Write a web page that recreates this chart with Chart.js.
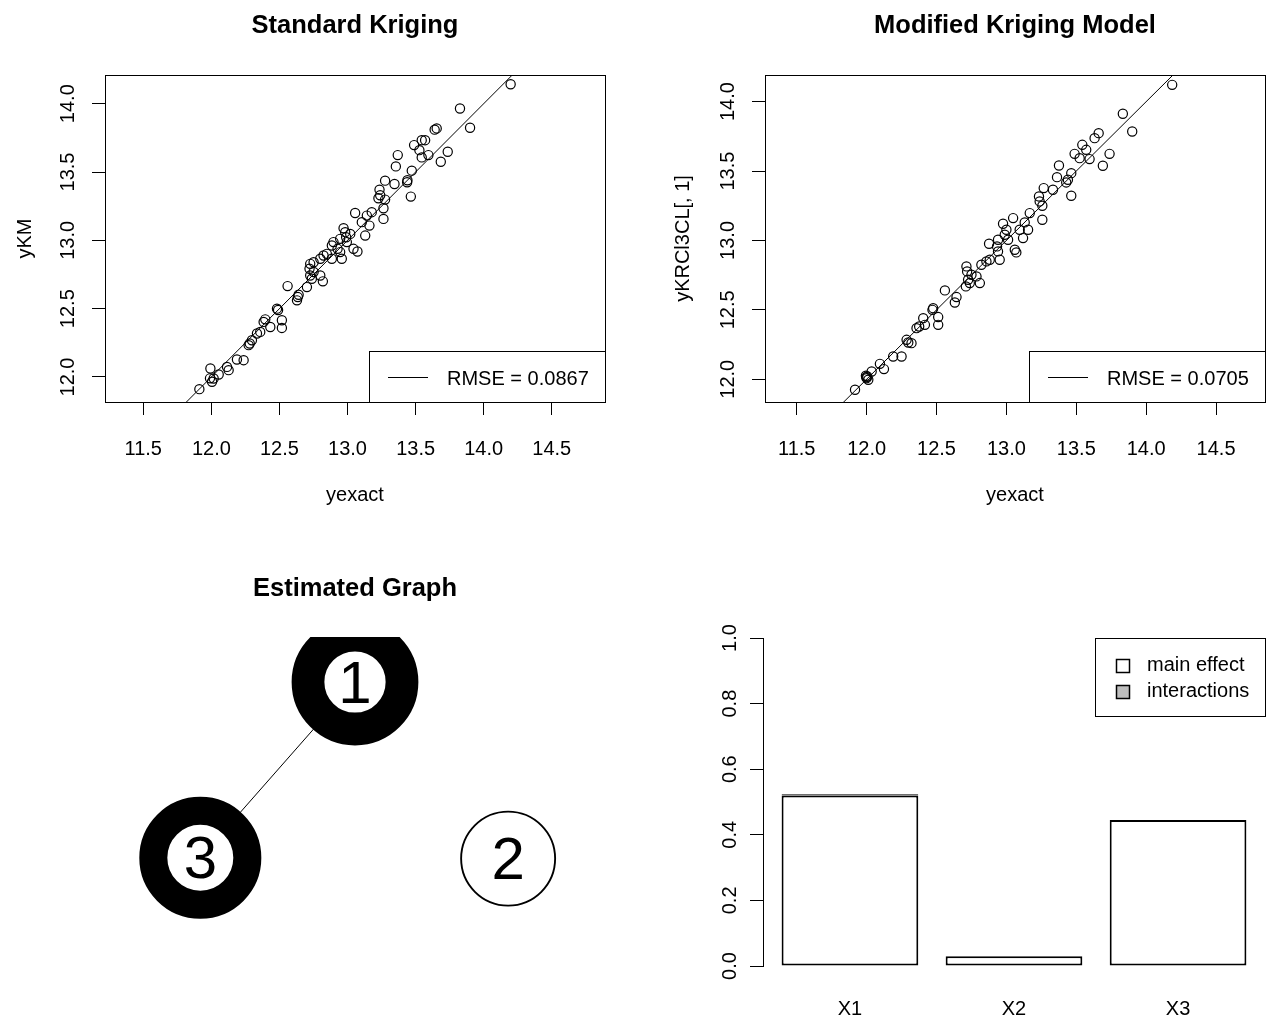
<!DOCTYPE html>
<html><head><meta charset="utf-8">
<script src="https://cdn.jsdelivr.net/npm/chart.js@4.4.1/dist/chart.umd.min.js"></script>
<style>
html,body{margin:0;padding:0;background:#fff;}
#wrap{position:relative;width:1271px;height:1023px;overflow:hidden;background:#fff;}
canvas{position:absolute;}
</style></head><body>
<div id="wrap">
<canvas id="c1" width="635" height="511" style="left:0;top:0"></canvas>
<canvas id="c2" width="636" height="511" style="left:635px;top:0"></canvas>
<canvas id="c3" width="635" height="512" style="left:0;top:511px"></canvas>
<canvas id="c4" width="636" height="512" style="left:635px;top:511px"></canvas>
</div>
<script>
// ---------------- data ----------------
const yexactA = [14.198,13.826,13.900,13.655,13.640,13.545,13.570,13.489,13.528,13.545,13.594,13.736,13.685,13.369,13.355,13.472,13.438,13.440,13.465,13.276,13.345,13.235,13.227,13.240,13.276,13.264,13.264,13.056,13.142,13.178,13.105,13.161,13.130,12.971,12.983,12.990,13.020,12.995,12.946,12.897,12.885,12.927,12.946,12.958,13.044,13.073,12.848,12.885,12.824,12.800,12.751,12.726,12.721,12.751,12.800,12.819,12.726,12.738,12.702,12.560,12.641,12.629,12.635,12.482,12.490,12.518,12.518,12.396,12.384,12.433,12.359,12.335,12.298,12.274,12.282,12.237,12.188,12.115,12.127,11.993,12.054,12.017,12.005,11.990,11.912];
const yKM     = [14.142,13.965,13.824,13.819,13.810,13.733,13.733,13.697,13.660,13.607,13.624,13.648,13.575,13.624,13.541,13.510,13.425,13.440,13.320,13.437,13.412,13.371,13.308,13.330,13.298,13.235,13.157,13.200,13.181,13.206,13.133,13.108,13.035,13.089,13.060,13.023,13.047,12.987,13.011,12.987,12.962,12.938,12.914,12.865,12.938,12.918,12.901,12.865,12.889,12.865,12.840,12.828,12.792,12.768,12.743,12.700,12.743,12.719,12.658,12.665,12.602,12.561,12.585,12.500,12.490,12.415,12.359,12.422,12.403,12.366,12.330,12.318,12.269,12.233,12.245,12.123,12.128,12.074,12.050,12.062,12.018,11.989,11.965,11.990,11.911];

const yexactB = [14.186,13.833,13.900,13.631,13.660,13.543,13.571,13.488,13.524,13.595,13.738,13.690,13.376,13.362,13.464,13.440,13.428,13.464,13.267,13.333,13.233,13.238,13.257,13.257,13.048,13.131,13.167,13.095,13.155,13.119,12.976,13.000,12.988,12.940,13.012,12.876,12.933,12.940,12.952,13.060,13.071,12.881,12.857,12.821,12.714,12.719,12.750,12.786,12.810,12.726,12.738,12.710,12.560,12.643,12.631,12.476,12.471,12.512,12.512,12.405,12.417,12.357,12.376,12.286,12.298,12.321,12.190,12.250,12.095,12.124,12.036,11.995,12.000,12.012,12.005,11.998,11.917];
const yKRCl3CL = [14.121,13.913,13.785,13.737,13.773,13.689,13.653,13.624,13.593,13.586,13.624,13.538,13.540,13.456,13.485,13.437,13.418,13.322,13.377,13.365,13.317,13.281,13.250,13.149,13.161,13.130,13.197,13.077,13.077,13.017,13.120,13.077,13.041,13.005,13.005,12.976,12.957,12.921,12.861,12.933,12.914,12.861,12.849,12.825,12.813,12.777,12.753,12.741,12.693,12.717,12.693,12.669,12.640,12.592,12.553,12.512,12.500,12.448,12.392,12.440,12.392,12.368,12.380,12.284,12.265,12.260,12.164,12.164,12.111,12.073,12.056,12.025,12.008,11.996,12.020,12.015,11.924];

const rmseValues = [0.0867, 0.0705];
const xTicks = [11.5, 12.0, 12.5, 13.0, 13.5, 14.0, 14.5];
const yTicks = [12.0, 12.5, 13.0, 13.5, 14.0];

const nodeLabels = ['1', '2', '3'];
const nodeX = [0.0, 0.98, -0.99];
const nodeY = [1.0, -0.13, -0.125];
const edges = [[1, 3]];

const categories = ['X1', 'X2', 'X3'];
const seriesNames = ['main effect', 'interactions'];
const mainEffect = [0.52, 0.03, 0.445];
const interactions = [0.004, 0, 0];
const barTicks = [0.0, 0.2, 0.4, 0.6, 0.8, 1.0];

// ---------------- helpers ----------------
const FONT = "'Liberation Sans', Arial, Helvetica, sans-serif";
Chart.defaults.font.family = FONT;
Chart.defaults.color = '#000';
const tickFont = { family: FONT, size: 20 };
const titleFont = { family: FONT, size: 25.5, weight: 'bold' };
const setTicks = vals => s => { s.ticks = vals.map(v => ({ value: v })); };

const frame = {
  id: 'frame',
  afterDatasetsDraw(chart, args, o) {
    if (!o || !o.show) return;
    const { left, top, right, bottom } = chart.chartArea;
    const ctx = chart.ctx;
    ctx.save();
    ctx.strokeStyle = '#000'; ctx.lineWidth = 1;
    ctx.strokeRect(Math.round(left) + 0.5, Math.round(top) + 0.5, Math.round(right - left), Math.round(bottom - top));
    ctx.restore();
  }
};

const boxLegend = {
  id: 'boxLegend',
  afterDraw(chart, args, o) {
    const items = chart.data.datasets.filter(d => d.legendSymbol);
    if (!o || !o.width || !items.length) return;
    const ca = chart.chartArea, ctx = chart.ctx;
    const w = o.width, h = o.height;
    const left = Math.round(ca.right - w);
    const top = Math.round(o.corner === 'bottomright' ? ca.bottom - h : ca.top);
    ctx.save();
    ctx.fillStyle = '#fff';
    ctx.fillRect(left, top, w, h);
    ctx.strokeStyle = '#000'; ctx.lineWidth = 1;
    ctx.strokeRect(left + 0.5, top + 0.5, w, h);
    ctx.font = `20px ${FONT}`;
    ctx.textBaseline = 'middle'; ctx.textAlign = 'left';
    items.forEach((d, i) => {
      const cy = top + o.rowStart + i * o.rowGap;
      if (d.legendSymbol === 'line') {
        ctx.beginPath();
        ctx.moveTo(left + o.symStart, Math.round(cy) + 0.5);
        ctx.lineTo(left + o.symEnd, Math.round(cy) + 0.5);
        ctx.stroke();
      } else {
        const s = o.symSize;
        const sx = Math.round(left + o.symStart), sy = Math.round(cy - s / 2);
        ctx.fillStyle = d.backgroundColor;
        ctx.fillRect(sx, sy, s, s);
        ctx.lineWidth = 1.5;
        ctx.strokeRect(sx + 0.5, sy + 0.5, s, s);
        ctx.lineWidth = 1;
      }
      ctx.fillStyle = '#000';
      ctx.fillText(d.label, left + o.textStart, cy + (o.textDy || 0));
    });
    ctx.restore();
  }
};

const nodeText = {
  id: 'nodeText',
  afterDatasetsDraw(chart, args, o) {
    if (!o || !o.labels) return;
    const meta = chart.getDatasetMeta(0);
    const ctx = chart.ctx, ca = chart.chartArea;
    ctx.save();
    ctx.beginPath(); ctx.rect(ca.left, ca.top, ca.right - ca.left, ca.bottom - ca.top); ctx.clip();
    ctx.font = `60px ${FONT}`;
    ctx.fillStyle = '#000'; ctx.textAlign = 'center'; ctx.textBaseline = 'middle';
    meta.data.forEach((el, i) => ctx.fillText(o.labels[i], el.x, el.y + 4));
    ctx.restore();
  }
};

const base = { responsive: false, animation: false, devicePixelRatio: 1, events: [] };

function scatterPanel(id, cfg) {
  return new Chart(document.getElementById(id), {
    type: 'scatter',
    data: {
      datasets: [
        {
          data: cfg.xs.map((x, i) => ({ x, y: cfg.ys[i] })),
          pointStyle: 'circle', pointRadius: 4.6, pointHoverRadius: 4.6,
          pointBorderWidth: 1.2, pointBorderColor: '#000', pointBackgroundColor: 'rgba(0,0,0,0)',
          borderColor: '#000', backgroundColor: 'rgba(0,0,0,0)', showLine: false, clip: 0
        },
        {
          label: 'RMSE = ' + cfg.rmse.toFixed(4), legendSymbol: 'line',
          data: [{ x: cfg.xRange[0] - 1, y: cfg.xRange[0] - 1 }, { x: cfg.xRange[1] + 1, y: cfg.xRange[1] + 1 }],
          showLine: true, borderColor: '#000', borderWidth: 1, pointRadius: 0, pointHoverRadius: 0, fill: false, clip: 0
        }
      ]
    },
    options: Object.assign({}, base, {
      layout: { autoPadding: false, padding: { left: 0, top: 0, right: cfg.padRight, bottom: 0 } },
      plugins: {
        legend: { display: false }, tooltip: { enabled: false },
        title: { display: true, text: cfg.title, fullSize: false, color: '#000',
          font: titleFont, padding: { top: 10.7, bottom: 33.7 } },
        boxLegend: { corner: 'bottomright', width: 236, height: 51, rowStart: 26, rowGap: 0, symStart: 19, symEnd: 59, textStart: 78, textDy: 2 },
        frame: { show: true }
      },
      scales: {
        x: {
          type: 'linear', min: cfg.xRange[0], max: cfg.xRange[1],
          afterFit: s => { s.height = 109; },
          afterBuildTicks: setTicks(xTicks),
          ticks: { font: tickFont, color: '#000', padding: 22, autoSkip: false, maxRotation: 0, callback: v => v.toFixed(1) },
          grid: { display: true, drawOnChartArea: false, drawTicks: true, tickLength: 13, color: '#000', lineWidth: 1 },
          border: { display: false },
          title: { display: true, text: 'yexact', color: '#000', font: { family: FONT, size: 20 }, padding: { top: 0, bottom: 4 } }
        },
        y: {
          type: 'linear', min: cfg.yRange[0], max: cfg.yRange[1],
          afterFit: s => { s.width = cfg.yAxisWidth; },
          afterBuildTicks: setTicks(yTicks),
          ticks: { font: tickFont, color: '#000', padding: 4.5, autoSkip: false, minRotation: 90, maxRotation: 90, crossAlign: 'center', callback: v => v.toFixed(1) },
          grid: { display: true, drawOnChartArea: false, drawTicks: true, tickLength: 13, color: '#000', lineWidth: 1 },
          border: { display: false },
          title: { display: true, text: cfg.yTitle, color: '#000', font: { family: FONT, size: 20 }, padding: { top: cfg.yTitlePad, bottom: 0 } }
        }
      }
    }),
    plugins: [boxLegend, frame]
  });
}

scatterPanel('c1', { title: 'Standard Kriging', xs: yexactA, ys: yKM, rmse: rmseValues[0],
  xRange: [11.219, 14.891], yRange: [11.817, 14.21], padRight: 30, yAxisWidth: 105, yTitle: 'yKM', yTitlePad: 13 });
scatterPanel('c2', { title: 'Modified Kriging Model', xs: yexactB, ys: yKRCl3CL, rmse: rmseValues[1],
  xRange: [11.273, 14.85], yRange: [11.836, 14.192], padRight: 6, yAxisWidth: 130, yTitle: 'yKRCl3CL[, 1]', yTitlePad: 36 });

// ---------------- graph panel ----------------
const edgeSets = edges.map(([a, b]) => ({
  data: [{ x: nodeX[a - 1], y: nodeY[a - 1] }, { x: nodeX[b - 1], y: nodeY[b - 1] }],
  showLine: true, borderColor: '#000', borderWidth: 1, pointRadius: 0, pointHoverRadius: 0, fill: false, clip: 0
}));
new Chart(document.getElementById('c3'), {
  type: 'scatter',
  data: {
    datasets: [
      {
        data: nodeLabels.map((l, i) => ({ x: nodeX[i], y: nodeY[i] })),
        pointStyle: 'circle', pointRadius: 47, pointHoverRadius: 47,
        pointBorderWidth: c => Math.max(1.8, mainEffect[c.dataIndex] * 63),
        pointBorderColor: '#000', pointBackgroundColor: '#fff', showLine: false, clip: 0
      },
      ...edgeSets
    ]
  },
  options: Object.assign({}, base, {
    layout: { autoPadding: false, padding: { left: 105, top: 0, right: 30, bottom: 58 } },
    plugins: {
      legend: { display: false }, tooltip: { enabled: false },
      title: { display: true, text: 'Estimated Graph', fullSize: false, color: '#000',
        font: titleFont, padding: { top: 62.2, bottom: 33.2 } },
      nodeText: { labels: nodeLabels }
    },
    scales: {
      x: { type: 'linear', display: false, min: -1.6, max: 1.6 },
      y: { type: 'linear', display: false, min: -0.811, max: 1.288 }
    }
  }),
  plugins: [nodeText]
});

// ---------------- bar panel ----------------
const BAR_WIDTH = 1, BAR_SPACE = 0.2;
const barCenter = i => BAR_SPACE + BAR_WIDTH / 2 + i * (BAR_WIDTH + BAR_SPACE);
const barSpan = categories.length * (BAR_WIDTH + BAR_SPACE) - BAR_SPACE;
const barStyle = { borderColor: '#000', borderWidth: 2, borderSkipped: false,
  barPercentage: BAR_WIDTH / (BAR_WIDTH + BAR_SPACE), categoryPercentage: 1, legendSymbol: 'box' };
new Chart(document.getElementById('c4'), {
  type: 'bar',
  data: {
    datasets: [
      Object.assign({ label: seriesNames[0], backgroundColor: '#ffffff',
        data: categories.map((c, i) => ({ x: barCenter(i), y: mainEffect[i] })) }, barStyle),
      Object.assign({ label: seriesNames[1], backgroundColor: '#bebebe',
        data: categories.map((c, i) => ({ x: barCenter(i), y: interactions[i] })) }, barStyle, { borderWidth: 1.5 })
    ]
  },
  options: Object.assign({}, base, {
    layout: { autoPadding: false, padding: { left: 0, top: 127, right: 6, bottom: 0 } },
    plugins: {
      legend: { display: false }, tooltip: { enabled: false },
      boxLegend: { corner: 'topright', width: 170, height: 78, rowStart: 27, rowGap: 26, symStart: 21, symSize: 13, textStart: 52, textDy: 0 }
    },
    scales: {
      x: {
        type: 'linear', stacked: true, offset: false,
        min: BAR_SPACE - 0.04 * barSpan,
        max: BAR_SPACE + barSpan + 0.04 * barSpan,
        afterFit: s => { s.height = 57; },
        afterBuildTicks: s => { s.ticks = categories.map((c, i) => ({ value: barCenter(i) })); },
        ticks: { font: tickFont, color: '#000', padding: 31, autoSkip: false, maxRotation: 0, callback: (v, i) => categories[i] },
        grid: { display: false, drawTicks: false },
        border: { display: false }
      },
      y: {
        type: 'linear', stacked: true, min: 0, max: 1,
        afterFit: s => { s.width = 128; },
        afterBuildTicks: setTicks(barTicks),
        ticks: { font: tickFont, color: '#000', padding: 6, autoSkip: false, minRotation: 90, maxRotation: 90, crossAlign: 'center', callback: v => v.toFixed(1) },
        grid: { display: true, drawOnChartArea: false, drawTicks: true, tickLength: 13, color: '#000', lineWidth: 1 },
        border: { display: true, color: '#000', width: 1 }
      }
    }
  }),
  plugins: [boxLegend]
});
</script>
</body></html>
